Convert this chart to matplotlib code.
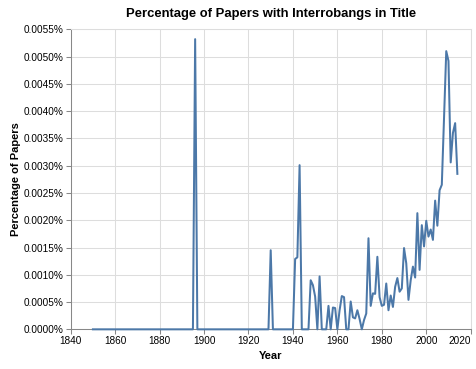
import matplotlib
matplotlib.use("Agg")
import matplotlib.pyplot as plt
from matplotlib.ticker import FuncFormatter, MultipleLocator

plt.rcParams['font.family'] = ['Liberation Sans', 'DejaVu Sans']

# one value per year, 1850..2014 (percent of papers)
years = list(range(1850, 2015))
pct = [
    0, 0, 0, 0, 0, 0, 0, 0, 0, 0,                      # 1850s
    0, 0, 0, 0, 0, 0, 0, 0, 0, 0,                      # 1860s
    0, 0, 0, 0, 0, 0, 0, 0, 0, 0,                      # 1870s
    0, 0, 0, 0, 0, 0, 0, 0, 0, 0,                      # 1880s
    0, 0, 0, 0, 0, 0, 0.00532, 0, 0, 0,                # 1890s
    0, 0, 0, 0, 0, 0, 0, 0, 0, 0,                      # 1900s
    0, 0, 0, 0, 0, 0, 0, 0, 0, 0,                      # 1910s
    0, 0, 0, 0, 0, 0, 0, 0, 0, 0,                      # 1920s
    0.00145, 0, 0, 0, 0, 0, 0, 0, 0, 0,                # 1930s
    0, 0.00129, 0.00132, 0.00301, 0, 0, 0, 0, 0.00090, 0.00081,
    0.00060, 0, 0.00097, 0, 0, 0, 0.00043, 0, 0.00040, 0.00039,
    0, 0.00035, 0.00061, 0.00059, 0, 0, 0.00051, 0.00022, 0.00020, 0.00035,
    0.00019, 0, 0.00017, 0.00029, 0.00167, 0.00043, 0.00066, 0.00065, 0.00133, 0.00059,
    0.00043, 0.00045, 0.00084, 0.00035, 0.00062, 0.00041, 0.00078, 0.00094, 0.00069, 0.00075,
    0.00149, 0.00121, 0.00054, 0.00090, 0.00115, 0.00095, 0.00213, 0.00109, 0.00191, 0.00152,
    0.00199, 0.00170, 0.00183, 0.00164, 0.00236, 0.00190, 0.00255, 0.00265, 0.00388, 0.00510,
    0.00492, 0.00306, 0.00360, 0.00378, 0.00285,
]
year_ticks = [1840, 1860, 1880, 1900, 1920, 1940, 1960, 1980, 2000, 2020]

fig = plt.figure(figsize=(4.76, 3.69), dpi=100)
ax = fig.add_axes([70.7 / 476, 39.67 / 369, 400 / 476, 300 / 369])

ax.plot(years, pct, color='#4c78a8', linewidth=1.45, zorder=3, clip_on=False)

ax.set_xlim(1840, 2020)
ax.set_ylim(0, 0.0055)
ax.set_xticks(year_ticks)
ax.set_xticklabels([str(y) for y in year_ticks])
ax.yaxis.set_major_locator(MultipleLocator(0.0005))
ax.yaxis.set_major_formatter(FuncFormatter(lambda v, p: '%.4f%%' % v))

ax.grid(True, color='#dddddd', linewidth=0.75, zorder=0)
ax.set_axisbelow(True)
for s in ['top', 'right']:
    ax.spines[s].set_color('#dddddd')
    ax.spines[s].set_linewidth(0.75)
for s in ['left', 'bottom']:
    ax.spines[s].set_color('#888888')
    ax.spines[s].set_linewidth(0.75)

ax.tick_params(axis='both', length=3.6, width=0.75, color='#888888',
               labelsize=7.2, pad=1.5, labelcolor='#000000')

# last x label sits flush against the right edge, like the original
for lab in ax.get_xticklabels():
    if lab.get_text() == '2020':
        lab.set_horizontalalignment('right')

ax.set_xlabel('Year', fontsize=8, fontweight='bold', labelpad=3)
ax.set_ylabel('Percentage of Papers', fontsize=8, fontweight='bold', labelpad=2)
ax.set_title('Percentage of Papers with Interrobangs in Title',
             fontsize=9.4, fontweight='bold', pad=9)

fig.savefig('out.png', dpi=100)
